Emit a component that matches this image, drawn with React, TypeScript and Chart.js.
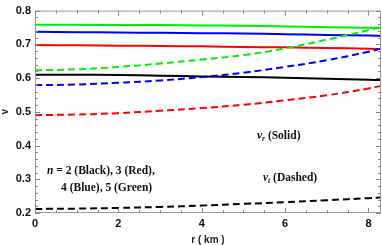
import React, { useEffect, useRef } from "react";
import { Chart, registerables } from "chart.js";

Chart.register(...registerables);

const rValues = [0, 1, 2, 3, 4, 5, 6, 7, 8, 8.3];

const vrBlack = [0.610, 0.610, 0.609, 0.607, 0.605, 0.603, 0.601, 0.598, 0.595, 0.594];
const vrRed = [0.698, 0.697, 0.696, 0.695, 0.694, 0.692, 0.691, 0.689, 0.687, 0.686];
const vrBlue = [0.737, 0.736, 0.735, 0.734, 0.733, 0.732, 0.730, 0.728, 0.726, 0.725];
const vrGreen = [0.758, 0.758, 0.757, 0.757, 0.756, 0.755, 0.753, 0.751, 0.749, 0.748];

const vtBlack = [0.212, 0.213, 0.215, 0.218, 0.222, 0.227, 0.232, 0.238, 0.244, 0.246];
const vtRed = [0.490, 0.492, 0.496, 0.503, 0.511, 0.521, 0.534, 0.549, 0.569, 0.577];
const vtBlue = [0.579, 0.581, 0.586, 0.593, 0.603, 0.616, 0.633, 0.653, 0.678, 0.688];
const vtGreen = [0.623, 0.626, 0.633, 0.643, 0.655, 0.668, 0.688, 0.714, 0.742, 0.752];

const xTicks = [0, 2, 4, 6, 8];
const yTicks = [0.2, 0.3, 0.4, 0.5, 0.6, 0.7, 0.8];

const xTitle = "r ( km )";
const yTitle = "v";
const legendLine1 = " = 2 (Black), 3 (Red),";
const legendLine2 = "4 (Blue), 5 (Green)";

const toPoints = (ys: number[]) => rValues.map((r, i) => ({ x: r, y: ys[i] }));

const overlay = {
  id: "overlay",
  afterDraw(chart: any) {
    const { ctx, chartArea, scales } = chart;
    const xs = scales.x;
    const ys = scales.y;
    const { left, right, top, bottom } = chartArea;
    ctx.save();
    // frame
    ctx.strokeStyle = "#9a9a9a";
    ctx.lineWidth = 1;
    ctx.strokeRect(left + 0.5, top + 0.5, right - left - 1, bottom - top - 1);
    // x ticks
    ctx.strokeStyle = "#888";
    for (let v = 0; v <= 8.3 + 1e-9; v += 0.5) {
      const major = Math.abs(v - Math.round(v / 2) * 2) < 1e-6;
      const len = major ? 5 : 3;
      const px = Math.round(xs.getPixelForValue(v)) + 0.5;
      ctx.beginPath();
      ctx.moveTo(px, bottom);
      ctx.lineTo(px, bottom - len);
      ctx.moveTo(px, top);
      ctx.lineTo(px, top + len);
      ctx.stroke();
    }
    for (let k = 0; k <= 30; k++) {
      const v = 0.2 + k * 0.02;
      const major = k % 5 === 0;
      const len = major ? 5 : 3;
      const py = Math.round(ys.getPixelForValue(v)) + 0.5;
      ctx.beginPath();
      ctx.moveTo(left, py);
      ctx.lineTo(left + len, py);
      ctx.moveTo(right, py);
      ctx.lineTo(right - len, py);
      ctx.stroke();
    }
    // axis titles
    ctx.fillStyle = "#222";
    ctx.font = "bold 10px 'Liberation Sans', Arial, sans-serif";
    ctx.textAlign = "center";
    ctx.textBaseline = "middle";
    ctx.fillText(xTitle, (left + right) / 2, 240);
    ctx.save();
    ctx.translate(5, (top + bottom) / 2);
    ctx.rotate(-Math.PI / 2);
    ctx.fillText(yTitle, 0, 0);
    ctx.restore();

    // annotations
    const serif = "'Liberation Serif', 'DejaVu Serif', serif";
    ctx.textAlign = "left";
    ctx.fillStyle = "#111";
    ctx.font = `italic bold 11.5px ${serif}`;
    ctx.fillText("n", 47, 171);
    const nW = ctx.measureText("n").width;
    ctx.font = `bold 11.5px ${serif}`;
    ctx.fillText(legendLine1, 47 + nW, 171);
    ctx.fillText(legendLine2, 61, 188);

    const drawSub = (sub: string, rest: string, x: number, y: number) => {
      ctx.font = `italic bold 11.5px ${serif}`;
      ctx.fillText("v", x, y);
      let w = ctx.measureText("v").width;
      ctx.font = `italic bold 7.5px ${serif}`;
      ctx.fillText(sub, x + w, y + 3);
      w += ctx.measureText(sub).width;
      ctx.font = `bold 11.5px ${serif}`;
      ctx.fillText(rest, x + w, y);
    };
    drawSub("r", " (Solid)", 257, 136);
    drawSub("t", " (Dashed)", 263, 178);
    ctx.restore();
  },
};

export default function App() {
  const ref = useRef<HTMLCanvasElement | null>(null);
  useEffect(() => {
    if (!ref.current) return;
    const mk = (data: number[], color: string, dashed: boolean) => ({
      data: toPoints(data),
      borderColor: color,
      backgroundColor: color,
      borderWidth: 2,
      borderDash: dashed ? [7, 4] : [],
      pointRadius: 0,
      fill: false,
      tension: 0.4,
    });
    const tickFont = { family: "'Liberation Sans', Arial, sans-serif", size: 11, weight: "bold" };
    const chart = new Chart(ref.current, {
      type: "line",
      data: {
        datasets: [
          mk(vtBlack, "#000000", true),
          mk(vtRed, "#ff0000", true),
          mk(vtBlue, "#0000ff", true),
          mk(vtGreen, "#00ee00", true),
          mk(vrBlack, "#000000", false),
          mk(vrRed, "#ff0000", false),
          mk(vrBlue, "#0000ff", false),
          mk(vrGreen, "#00ee00", false),
        ],
      },
      options: {
        animation: false,
        responsive: false,
        devicePixelRatio: 1,
        layout: { padding: { top: 5, right: 1, left: 0, bottom: 0 } },
        plugins: { legend: { display: false }, tooltip: { enabled: false } },
        scales: {
          x: {
            type: "linear",
            min: 0,
            max: 8.3,
            grid: { display: false, drawTicks: false },
            border: { display: false },
            afterBuildTicks: (s: any) => {
              s.ticks = xTicks.map((v) => ({ value: v }));
            },
            afterFit: (s: any) => {
              s.height = 32;
            },
            ticks: {
              padding: 4,
              color: "#111",
              font: tickFont,
              callback: (v: any) => String(v),
            },
          },
          y: {
            type: "linear",
            min: 0.2,
            max: 0.8,
            grid: { display: false, drawTicks: false },
            border: { display: false },
            afterBuildTicks: (s: any) => {
              s.ticks = yTicks.map((v) => ({ value: v }));
            },
            afterFit: (s: any) => {
              s.width = 35;
            },
            ticks: {
              padding: 4,
              color: "#111",
              font: tickFont,
              callback: (v: any) => Number(v).toFixed(1),
            },
          },
        },
      },
      plugins: [overlay],
    } as any);
    return () => chart.destroy();
  }, []);
  return (
    <div style={{ position: "fixed", left: 0, top: 0, width: 382, height: 245, background: "#fff" }}>
      <canvas ref={ref} width={382} height={245} style={{ width: 382, height: 245, display: "block" }} />
    </div>
  );
}
